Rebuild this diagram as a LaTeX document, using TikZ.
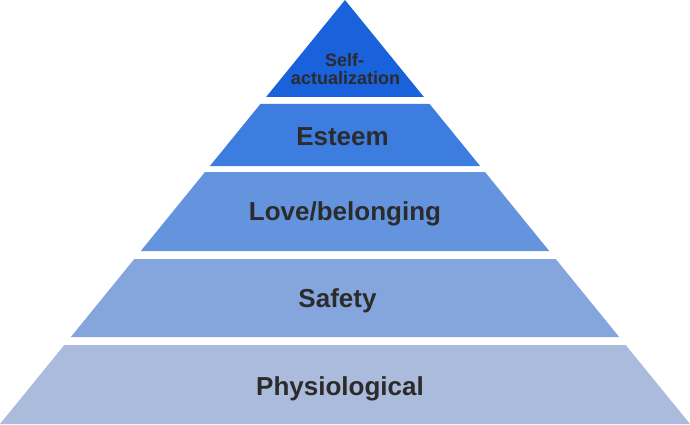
\documentclass[tikz,border=0pt]{standalone}
\usepackage{fontspec}
\setmainfont{Liberation Sans}
\definecolor{tierA}{HTML}{1A61DC}
\definecolor{tierB}{HTML}{3D7DE0}
\definecolor{tierC}{HTML}{6594DF}
\definecolor{tierD}{HTML}{85A6DC}
\definecolor{tierE}{HTML}{ABBBDB}
\definecolor{labeltext}{HTML}{2B2B2B}
\tikzset{
  tier/.style={draw=none},
  biglabel/.style={anchor=base, inner sep=0pt, text=labeltext,
    font=\bfseries\fontsize{26}{30}\selectfont},
  smalllabel/.style={anchor=base, inner sep=0pt, text=labeltext,
    font=\bfseries\fontsize{18}{18}\selectfont}
}
\begin{document}
\begin{tikzpicture}[x=1pt,y=-1pt]
\useasboundingbox (0,0) rectangle (690,425);
% tiers
\fill[tier,tierA] (345,0) -- (423.9,97) -- (266.1,97) -- cycle;
\fill[tier,tierB] (260.4,104) -- (429.6,104) -- (480.1,166) -- (209.9,166) -- cycle;
\fill[tier,tierC] (205.0,172) -- (485.0,172) -- (549.2,251) -- (140.8,251) -- cycle;
\fill[tier,tierD] (134.3,259) -- (555.7,259) -- (619.2,337) -- (70.8,337) -- cycle;
\fill[tier,tierE] (64.3,345) -- (625.7,345) -- (690,424) -- (0,424) -- cycle;
% labels
\node[smalllabel] (self) at (344.5,67) {Self-};
\node[smalllabel] (actual) at (345.5,85) {actualization};
\node[biglabel] (esteem) at (342.5,145) {Esteem};
\node[biglabel] (love) at (345,220) {Love/belonging};
\node[biglabel] (safety) at (337.5,307) {Safety};
\node[biglabel] (phys) at (340,395) {Physiological};
\end{tikzpicture}
\end{document}
